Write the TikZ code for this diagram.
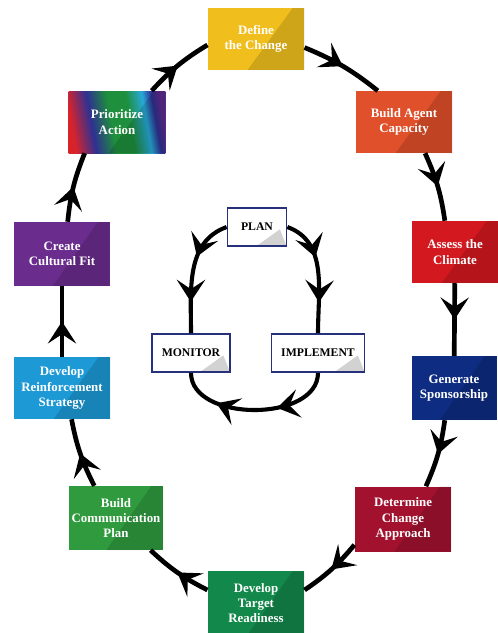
\documentclass[tikz,border=0pt]{standalone}
\usepackage{fontspec}
\setmainfont{Liberation Serif}
\usetikzlibrary{arrows.meta,decorations.markings}

\definecolor{defY}{HTML}{F0BF1E}
\definecolor{agentO}{HTML}{E0502B}
\definecolor{climR}{HTML}{D3191F}
\definecolor{sponsB}{HTML}{0E2C82}
\definecolor{apprM}{HTML}{A2122F}
\definecolor{readyG}{HTML}{12884A}
\definecolor{commG}{HTML}{2F9B3E}
\definecolor{reinfC}{HTML}{1D99D5}
\definecolor{fitP}{HTML}{6A2C8D}
\definecolor{loopB}{HTML}{27307A}
% rainbow for the "Prioritize Action" card
\definecolor{rbRed}{HTML}{D9232B}
\definecolor{rbBlue}{HTML}{2E3192}
\definecolor{rbGreen}{HTML}{1E8F3C}
\definecolor{rbCyan}{HTML}{27A9D8}
\definecolor{rbPurple}{HTML}{5B2C8F}
\pgfdeclarehorizontalshading{rainbow}{100bp}{color(0bp)=(rbRed); color(25bp)=(rbRed); color(36bp)=(rbBlue); color(47bp)=(rbGreen); color(57bp)=(rbGreen); color(66bp)=(rbCyan); color(71bp)=(rbBlue); color(75bp)=(rbPurple); color(100bp)=(rbPurple)}

\tikzset{chev/.tip={Stealth[length=0.66cm,width=0.85cm,inset=0.28cm]}}

\begin{document}
\begin{tikzpicture}[
    x=0.03cm, y=-0.03cm,
    stage/.style={rectangle,minimum width=2.9cm,minimum height=1.86cm,inner sep=2pt,
      text=white,align=center,font=\bfseries\fontsize{11}{13}\selectfont,
      path picture={\fill[black,opacity=.14]
        ([xshift=-1.7cm]path picture bounding box.south east) --
        ([xshift=-0.35cm]path picture bounding box.north east) --
        (path picture bounding box.north east) --
        (path picture bounding box.south east) -- cycle;}},
    phase/.style={rectangle,draw=loopB,line width=1.5pt,fill=white,minimum height=1.14cm,
      inner sep=2pt,font=\bfseries\fontsize{10}{12}\selectfont,
      path picture={\fill[gray,opacity=.35]
        ([xshift=-0.9cm]path picture bounding box.south east) --
        ([xshift=-0.2cm,yshift=0.5cm]path picture bounding box.south east) --
        (path picture bounding box.south east) -- cycle;}},
    flow/.style={line width=4pt,postaction={decorate},
      decoration={markings,mark=at position 0.5 with {\arrow{chev}}}},
    cycflow/.style={line width=3.5pt,postaction={decorate},
      decoration={markings,mark=at position 0.36 with {\arrow{chev}},
        mark=at position 0.74 with {\arrow{chev}}}},
  ]
  \useasboundingbox (0,0) rectangle (498,633);

  % outer cycle
  \node[stage,fill=defY]    (define)  at (256,39)  {Define\\the Change};
  \node[stage,fill=agentO]  (agent)   at (404,122) {Build Agent\\Capacity};
  \node[stage,fill=climR,minimum width=2.6cm] (climate) at (455,252) {Assess the\\Climate};
  \node[stage,fill=sponsB,minimum width=2.55cm,minimum height=1.92cm] (sponsor) at (454,388) {Generate\\Sponsorship};
  \node[stage,fill=apprM,minimum height=1.95cm]   (approach) at (403,519) {Determine\\Change\\Approach};
  \node[stage,fill=readyG,minimum height=1.9cm]   (ready)    at (256,603) {Develop\\Target\\Readiness};
  \node[stage,fill=commG,minimum width=2.82cm,minimum height=1.92cm] (comm) at (116,518) {Build\\Communication\\Plan};
  \node[stage,fill=reinfC]  (reinf)   at (62,388)  {Develop\\Reinforcement\\Strategy};
  \node[stage,fill=fitP,minimum width=2.85cm,minimum height=1.92cm] (fit) at (62,254) {Create\\Cultural Fit};
  \node[stage,shading=rainbow,shading angle=10] (prio) at (117,122) {Prioritize\\Action};

  \draw[flow] (define.-10) to[bend left=8] (agent.130);
  \draw[flow] (agent.-56) to[bend left=8] (climate.108);
  \draw[flow] (climate) -- (sponsor);
  \draw[flow] (sponsor.-106) to[bend left=8] (approach.55);
  \draw[flow] (approach.-152) to[bend left=8] (ready.15);
  \draw[flow] (ready.165) to[bend left=8] (comm.-43);
  \draw[flow] (comm.124) to[bend left=8] (reinf.-73);
  \draw[flow] (reinf) -- (fit);
  \draw[flow] (fit.80) to[bend left=8] (prio.-136);
  \draw[flow] (prio.42) to[bend left=8] (define.-173);

  % inner loop
  \node[phase,minimum width=1.77cm] (plan)    at (257,227) {PLAN};
  \node[phase,minimum width=2.34cm] (monitor) at (191,353) {MONITOR};
  \node[phase,minimum width=2.79cm] (impl)    at (318,353) {IMPLEMENT};

  \draw[cycflow] (plan.west) to[out=200,in=90] (monitor.north);
  \draw[cycflow] (plan.east) to[out=-20,in=90] (impl.north);
  \draw[cycflow] (impl.south) to[out=-90,in=-90] (monitor.south);
\end{tikzpicture}
\end{document}
